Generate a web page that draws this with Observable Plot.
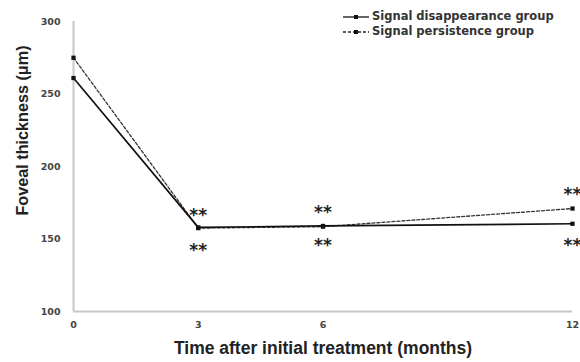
<!DOCTYPE html>
<html><head><meta charset="utf-8">
<script src="https://cdn.jsdelivr.net/npm/d3@7"></script>
<script src="https://cdn.jsdelivr.net/npm/@observablehq/plot@0.6"></script>
<style>
body{margin:0;background:#fff;font-family:"Liberation Sans",Arial,sans-serif;}
#wrap{position:relative;width:580px;height:362px;}
#legend{position:absolute;left:343px;top:9px;font-family:"DejaVu Sans",sans-serif;font-size:11.5px;font-weight:bold;color:#333;line-height:15px;}
#legend div{display:flex;align-items:center;white-space:nowrap;}
#legend svg{margin-right:3px;}
</style></head>
<body><div id="wrap"><div id="legend"></div></div>
<script>
const months = [0, 3, 6, 12];
const disappearance = [261, 158, 159, 160.5];
const persistence = [275, 157.5, 158.5, 171];
const seriesNames = ["Signal disappearance group", "Signal persistence group"];
const yTicks = [100, 150, 200, 250, 300];
const xTicks = [0, 3, 6, 12];
const starMonths = [3, 3, 6, 6, 12, 12];
const starValues = [166, 142, 168, 145.5, 180.5, 145.5];
const starLabels = ["**", "**", "**", "**", "**", "**"];

const rows = [];
months.forEach((m, i) => {
  rows.push({month: m, value: disappearance[i], group: seriesNames[0]});
  rows.push({month: m, value: persistence[i], group: seriesNames[1]});
});
const stars = starMonths.map((m, i) => ({month: m, value: starValues[i], label: starLabels[i]}));

const plot = Plot.plot({
  width: 580, height: 362,
  marginLeft: 73, marginRight: 8, marginTop: 21, marginBottom: 51,
  style: {fontFamily: "Liberation Sans, Arial, sans-serif", background: "#fff"},
  x: {domain: [0, 12], ticks: xTicks, label: null},
  y: {domain: [100, 300], ticks: yTicks, label: null},
  marks: [
    Plot.ruleY([100], {stroke: "#c8c8c8", strokeWidth: 2}),
    Plot.ruleX([0], {stroke: "#c8c8c8", strokeWidth: 2}),
    Plot.axisX({ticks: xTicks, tickSize: 0, tickPadding: 10, fontSize: 9.5, fontWeight: "bold", fontFamily: "DejaVu Sans", fill: "#444"}),
    Plot.axisY({ticks: yTicks, tickSize: 0, tickPadding: 13, fontSize: 9.5, fontWeight: "bold", fontFamily: "DejaVu Sans", fill: "#444"}),
    Plot.line(rows.filter(d => d.group === seriesNames[1]), {x: "month", y: "value", stroke: "#333", strokeWidth: 1.3, strokeDasharray: "3,2"}),
    Plot.line(rows.filter(d => d.group === seriesNames[0]), {x: "month", y: "value", stroke: "#111", strokeWidth: 1.7}),
    Plot.dot(rows, {x: "month", y: "value", fill: "#111", r: 2.4, symbol: "square"}),
    Plot.text(stars, {x: "month", y: "value", text: "label", fontSize: 17, fontWeight: "bold", fontFamily: "DejaVu Sans", fill: "#222"}),
    Plot.text(["Foveal thickness (μm)"], {frameAnchor: "left", textAnchor: "middle", rotate: -90, dx: -51, dy: -36, fontSize: 16.2, fontWeight: "bold", fill: "#222"}),
    Plot.text(["Time after initial treatment (months)"], {frameAnchor: "bottom", dy: 42, fontSize: 17.5, fontWeight: "bold", fill: "#222"})
  ]
});
document.getElementById("wrap").prepend(plot);

const leg = document.getElementById("legend");
seriesNames.forEach((name, i) => {
  const div = document.createElement("div");
  const dash = i === 1 ? 'stroke-dasharray="3,2"' : '';
  div.innerHTML = `<svg width="26" height="8"><line x1="0" y1="4" x2="26" y2="4" stroke="#222" stroke-width="1.4" ${dash}/><rect x="11" y="2" width="4" height="4" fill="#111"/></svg>${name}`;
  leg.appendChild(div);
});
</script></body></html>
